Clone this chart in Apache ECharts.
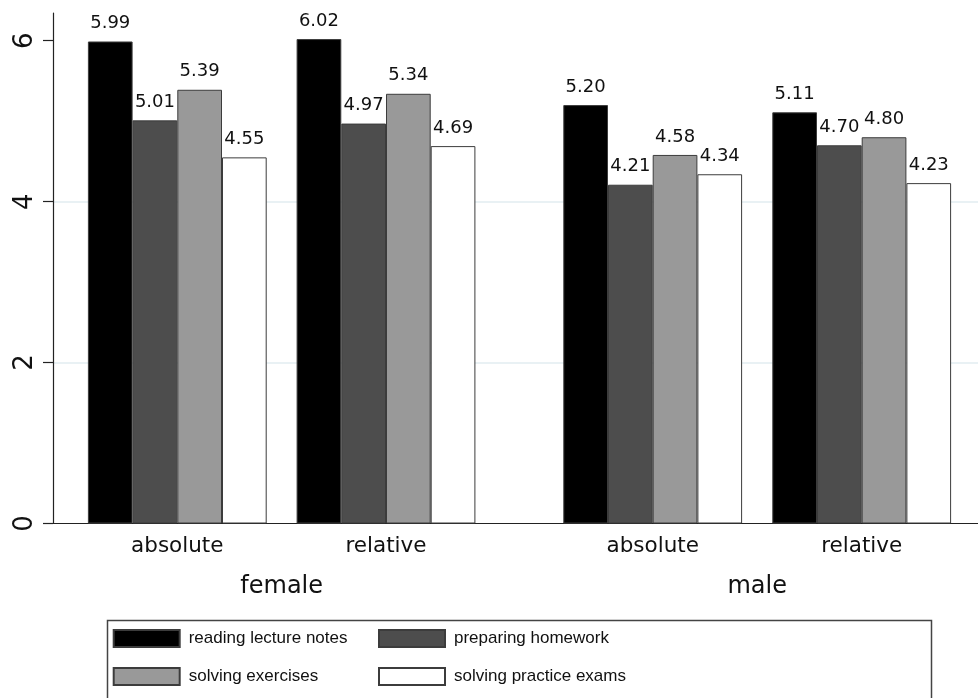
<!DOCTYPE html>
<html><head><meta charset="utf-8">
<script src="https://cdn.jsdelivr.net/npm/echarts@6/dist/echarts.min.js"></script>
<style>html,body{margin:0;padding:0;background:#fff}#c{width:978px;height:698px}</style>
</head><body><div id="c"></div>
<script>
// ---- data ----
const categories = ['absolute', 'relative'];
const groups = ['female', 'male'];
const seriesNames = ['reading lecture notes', 'preparing homework', 'solving exercises', 'solving practice exams'];
// order: female-absolute, female-relative, male-absolute, male-relative
const readingLectureNotes = [5.99, 6.02, 5.20, 5.11];
const preparingHomework   = [5.01, 4.97, 4.21, 4.70];
const solvingExercises    = [5.39, 5.34, 4.58, 4.80];
const solvingPracticeExams = [4.55, 4.69, 4.34, 4.23];
const yTicks = [0, 2, 4, 6];

const seriesValues = [readingLectureNotes, preparingHomework, solvingExercises, solvingPracticeExams];
const fills = ['#000000', '#4d4d4d', '#999999', '#ffffff'];
const FONT = 'DejaVu Sans';
const LEGFONT = 'Liberation Sans';
const yMax = 6.344;
const TOP = 13, BOTTOM = 174.5;

const chart = echarts.init(document.getElementById('c'), null, {renderer: 'canvas'});

const grids = [
  {left: 53, right: 0, top: TOP, bottom: BOTTOM, outerBoundsMode: 'none'},
  {left: 72.95, width: 417.4, top: TOP, bottom: BOTTOM, outerBoundsMode: 'none'},
  {left: 548.2, width: 418, top: TOP, bottom: BOTTOM, outerBoundsMode: 'none'}
];

const xAxes = [
  {gridIndex: 0, type: 'value', min: 0, max: 1, axisLabel: {show: false}, axisTick: {show: false},
   splitLine: {show: false}, axisLine: {show: true, lineStyle: {color: '#222', width: 1.2}}}
];
const yAxes = [
  {gridIndex: 0, type: 'value', min: 0, max: yMax, interval: 2,
   axisLine: {show: true, lineStyle: {color: '#222', width: 1.2}},
   axisTick: {show: true, length: 10, customValues: yTicks, lineStyle: {color: '#222', width: 1.2}},
   axisLabel: {show: true, rotate: 90, customValues: yTicks, margin: 15, fontSize: 26, fontFamily: FONT, color: '#111'},
   splitLine: {show: true, showMinLine: false, showMaxLine: false, lineStyle: {color: '#e2ecf0', width: 1.5}}}
];
groups.forEach((g, gi) => {
  xAxes.push({
    gridIndex: gi + 1, type: 'category', data: categories,
    axisLine: {show: false}, axisTick: {show: false}, splitLine: {show: false},
    axisLabel: {show: true, margin: 12, fontSize: 21.5, fontFamily: FONT, color: '#111'},
    name: g, nameLocation: 'middle', nameGap: 51, nameMoveOverlap: false,
    nameTextStyle: {fontSize: 24, fontFamily: FONT, color: '#111'}
  });
  yAxes.push({gridIndex: gi + 1, type: 'value', min: 0, max: yMax, show: false, splitLine: {show: false}});
});

const series = [];
groups.forEach((g, gi) => {
  seriesNames.forEach((name, si) => {
    series.push({
      type: 'bar', name: name, xAxisIndex: gi + 1, yAxisIndex: gi + 1,
      data: seriesValues[si].slice(gi * 2, gi * 2 + 2),
      barWidth: 44.7, barGap: '0%',
      itemStyle: {color: fills[si], borderColor: '#3c3c3c', borderWidth: 1},
      label: {show: true, position: 'top', distance: 9, fontSize: 18, fontFamily: FONT, color: '#111',
              formatter: p => p.value.toFixed(2)},
      emphasis: {disabled: true},
      animation: false
    });
  });
});

const legendCommon = {
  top: 629, orient: 'vertical', padding: 0,
  itemWidth: 66, itemHeight: 17, itemGap: 19,
  selectedMode: false,
  textStyle: {fontFamily: LEGFONT, fontSize: 17, color: '#111', lineHeight: 17, padding: [0, 0, 0, 4]}
};

chart.setOption({
  backgroundColor: '#ffffff',
  animation: false,
  grid: grids,
  xAxis: xAxes,
  yAxis: yAxes,
  legend: [
    Object.assign({}, legendCommon, {left: 112.7, data: [seriesNames[0], seriesNames[2]].map(n => ({name: n, icon: 'rect'}))}),
    Object.assign({}, legendCommon, {left: 378, data: [seriesNames[1], seriesNames[3]].map(n => ({name: n, icon: 'rect'}))})
  ],
  graphic: [{
    type: 'rect', left: 105, top: 618, silent: true,
    shape: {width: 824, height: 90},
    style: {fill: 'none', stroke: '#444', lineWidth: 1.5}
  }],
  series: series
});
</script>
</body></html>
